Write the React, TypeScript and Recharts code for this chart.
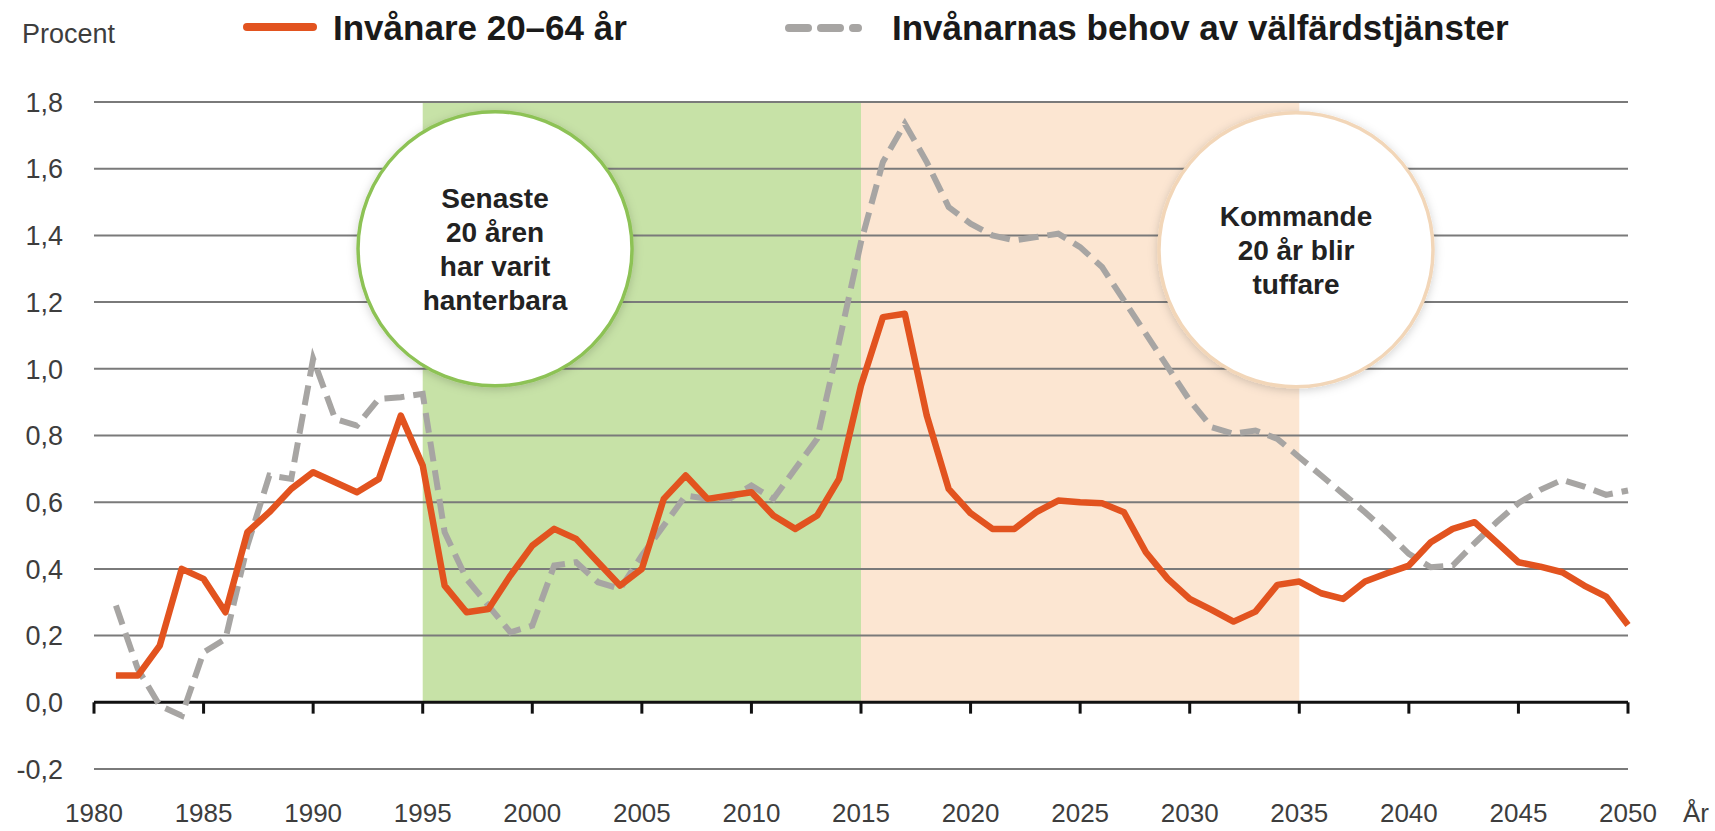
import {
  LineChart,
  Line,
  XAxis,
  YAxis,
  ReferenceArea,
  ReferenceLine,
  ReferenceDot
} from 'recharts'

const years = [
  1981, 1982, 1983, 1984, 1985, 1986, 1987, 1988, 1989, 1990,
  1991, 1992, 1993, 1994, 1995, 1996, 1997, 1998, 1999, 2000,
  2001, 2002, 2003, 2004, 2005, 2006, 2007, 2008, 2009, 2010,
  2011, 2012, 2013, 2014, 2015, 2016, 2017, 2018, 2019, 2020,
  2021, 2022, 2023, 2024, 2025, 2026, 2027, 2028, 2029, 2030,
  2031, 2032, 2033, 2034, 2035, 2036, 2037, 2038, 2039, 2040,
  2041, 2042, 2043, 2044, 2045, 2046, 2047, 2048, 2049, 2050
]

// Invånare 20–64 år
const workingAge = [
  0.08, 0.08, 0.17, 0.40, 0.37, 0.27, 0.51, 0.57, 0.64, 0.69,
  0.66, 0.63, 0.67, 0.86, 0.71, 0.35, 0.27, 0.28, 0.38, 0.47,
  0.52, 0.49, 0.42, 0.35, 0.40, 0.61, 0.68, 0.61, 0.62, 0.63,
  0.56, 0.52, 0.56, 0.67, 0.95, 1.155, 1.165, 0.86, 0.64, 0.567,
  0.52, 0.52, 0.57, 0.605, 0.60, 0.597, 0.57, 0.45, 0.37, 0.31,
  0.277, 0.242, 0.272, 0.352, 0.362, 0.327, 0.31, 0.362, 0.387, 0.41,
  0.48, 0.52, 0.54, 0.48, 0.42, 0.407, 0.39, 0.35, 0.317, 0.232
]

// Invånarnas behov av välfärdstjänster
const welfareNeed = [
  0.29, 0.10, -0.01, -0.04, 0.15, 0.19, 0.47, 0.68, 0.67, 1.03,
  0.85, 0.83, 0.91, 0.915, 0.925, 0.51, 0.37, 0.29, 0.21, 0.23,
  0.41, 0.42, 0.36, 0.34, 0.44, 0.53, 0.62, 0.61, 0.61, 0.65,
  0.61, 0.70, 0.79, 1.08, 1.38, 1.62, 1.735, 1.62, 1.485, 1.435,
  1.40, 1.385, 1.395, 1.405, 1.365, 1.305, 1.205, 1.105, 1.005, 0.905,
  0.825, 0.805, 0.815, 0.79, 0.735, 0.68, 0.625, 0.57, 0.51, 0.445,
  0.405, 0.41, 0.477, 0.54, 0.597, 0.637, 0.667, 0.647, 0.622, 0.635
]

const xTicks = [1980, 1985, 1990, 1995, 2000, 2005, 2010, 2015, 2020, 2025, 2030, 2035, 2040, 2045, 2050]
const yTicks = [-0.2, 0, 0.2, 0.4, 0.6, 0.8, 1, 1.2, 1.4, 1.6, 1.8]

const pastPeriod = [1995, 2015]
const futurePeriod = [2015, 2035]
const pastText = ['Senaste', '20 åren', 'har varit', 'hanterbara']
const futureText = ['Kommande', '20 år blir', 'tuffare']

const data = years.map((year, i) => ({
  year,
  work: workingAge[i],
  welfare: welfareNeed[i]
}))

const ORANGE = '#E2531F'
const GREY = '#A7A5A3'
const FONT = '"Liberation Sans", Arial, sans-serif'

const XTick = ({ x, y, payload }: any) => (
  <text x={x} y={y} dy={53} textAnchor="middle" fontSize={26} fill="#3d3d3d" fontFamily={FONT}>
    {payload.value}
  </text>
)

const YTick = ({ x, y, payload }: any) => (
  <text x={x} y={y} dy="0.36em" textAnchor="end" fontSize={27} fill="#3d3d3d" fontFamily={FONT}>
    {Number(payload.value).toFixed(1).replace('.', ',')}
  </text>
)

const bubble = (lines: string[], stroke: string) => (props: any) => {
  const { cx, cy } = props
  return (
    <g>
      <circle cx={cx} cy={cy} r={137} fill="#fff" stroke={stroke} strokeWidth={3.5} filter="url(#bubbleShadow)" />
      {lines.map((t, i) => (
        <text
          key={i}
          x={cx}
          y={cy + (i - (lines.length - 1) / 2) * 34}
          dy="0.36em"
          textAnchor="middle"
          fontSize={28}
          fontWeight="bold"
          fill="#222"
          fontFamily={FONT}
        >
          {t}
        </text>
      ))}
    </g>
  )
}

export default function App() {
  return (
    <div style={{ position: 'relative', width: 1715, height: 831, background: '#fff', fontFamily: FONT }}>
      <style>{'body{margin:0}'}</style>
      <svg width={0} height={0} style={{ position: 'absolute' }}>
        <defs>
          <filter id="bubbleShadow" x="-20%" y="-20%" width="140%" height="140%">
            <feDropShadow dx="0" dy="2" stdDeviation="5" floodColor="#000" floodOpacity="0.18" />
          </filter>
        </defs>
      </svg>

      <LineChart width={1715} height={831} data={data} margin={{ top: 102, right: 87, bottom: 0, left: 0 }}>
        <XAxis
          dataKey="year"
          type="number"
          domain={[1980, 2050]}
          ticks={xTicks}
          interval={0}
          height={62}
          axisLine={false}
          tickLine={false}
          tickSize={0}
          tickMargin={0}
          tick={<XTick />}
        />
        <YAxis
          domain={[-0.2, 1.8]}
          ticks={yTicks}
          interval={0}
          width={94}
          axisLine={false}
          tickLine={false}
          tickSize={0}
          tickMargin={31}
          tick={<YTick />}
        />

        <ReferenceArea x1={pastPeriod[0]} x2={pastPeriod[1]} y1={0} y2={1.8} fill="#C7E2A7" fillOpacity={1} stroke="none" />
        <ReferenceArea x1={futurePeriod[0]} x2={futurePeriod[1]} y1={0} y2={1.8} fill="#FCE6D2" fillOpacity={1} stroke="none" />

        {yTicks.filter((t) => t !== 0).map((t) => (
          <ReferenceLine key={t} y={t} stroke="#7a7a7a" strokeWidth={2} />
        ))}
        <ReferenceLine y={0} stroke="#111" strokeWidth={3} />
        {xTicks.map((t) => (
          <ReferenceLine
            key={`tick-${t}`}
            segment={[{ x: t, y: 0 }, { x: t, y: -0.034 }]}
            stroke="#111"
            strokeWidth={3}
            ifOverflow="visible"
          />
        ))}

        <ReferenceDot x={1998.3} y={1.36} r={137} shape={bubble(pastText, '#8DC255')} />
        <ReferenceDot x={2034.85} y={1.357} r={137} shape={bubble(futureText, '#F2D6B8')} />

        <Line
          type="linear"
          dataKey="welfare"
          stroke={GREY}
          strokeWidth={6}
          strokeDasharray="20 9"
          dot={false}
          activeDot={false}
          isAnimationActive={false}
        />
        <Line
          type="linear"
          dataKey="work"
          stroke={ORANGE}
          strokeWidth={6.5}
          strokeLinejoin="round"
          dot={false}
          activeDot={false}
          isAnimationActive={false}
        />
      </LineChart>

      <svg width={1715} height={831} style={{ position: 'absolute', left: 0, top: 0, pointerEvents: 'none' }}>
        <text x={22} y={43} fontSize={27} fill="#3d3d3d" fontFamily={FONT}>Procent</text>
        <line x1={247} y1={27} x2={313} y2={27} stroke={ORANGE} strokeWidth={8} strokeLinecap="round" />
        <text x={333} y={40} fontSize={35} fontWeight="bold" fill="#1a1a1a" fontFamily={FONT}>Invånare 20–64 år</text>
        <line x1={789} y1={28} x2={858} y2={28} stroke={GREY} strokeWidth={8} strokeLinecap="round" strokeDasharray="19 13" />
        <text x={892} y={40} fontSize={35} fontWeight="bold" fill="#1a1a1a" fontFamily={FONT}>Invånarnas behov av välfärdstjänster</text>
        <text x={1683} y={822} fontSize={26} fill="#3d3d3d" fontFamily={FONT}>År</text>
      </svg>
    </div>
  )
}
